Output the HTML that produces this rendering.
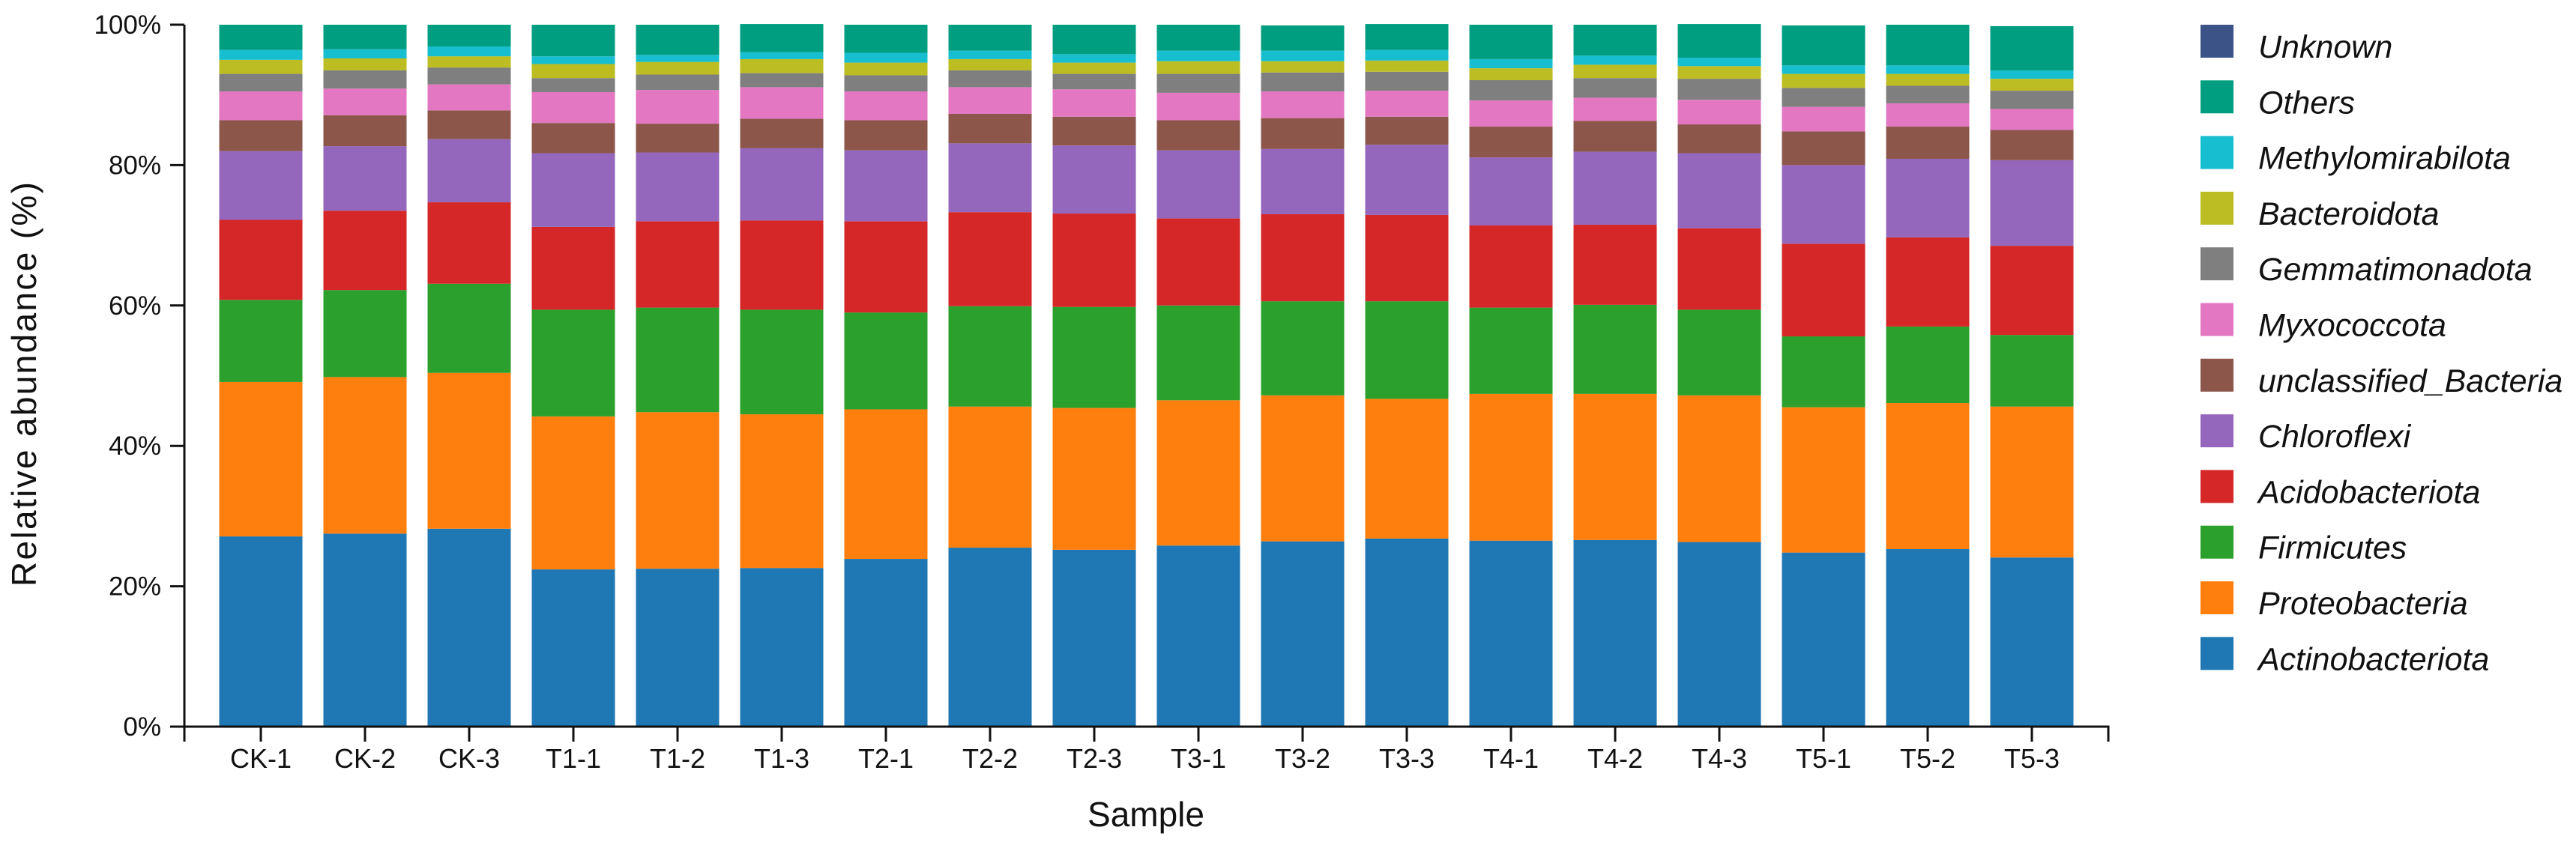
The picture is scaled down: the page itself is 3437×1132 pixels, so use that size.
<!DOCTYPE html>
<html><head><meta charset="utf-8"><style>
html,body{margin:0;padding:0;background:#fff;}
svg{display:block;font-family:"Liberation Sans",Arial,sans-serif;}
</style></head><body>
<svg id="chart" width="3437" height="1132" viewBox="0 0 3437 1132" xmlns="http://www.w3.org/2000/svg">
<g id="bars"></g>
<g id="axes"></g>
<g id="legend"></g>
<text transform="translate(48,513) rotate(-90)" text-anchor="middle" font-size="46" textLength="540" fill="#111">Relative abundance (%)</text>
<text x="1529" y="1103" text-anchor="middle" font-size="46" fill="#111">Sample</text>
</svg>
<script>
const categories = ["CK-1","CK-2","CK-3","T1-1","T1-2","T1-3","T2-1","T2-2","T2-3","T3-1","T3-2","T3-3","T4-1","T4-2","T4-3","T5-1","T5-2","T5-3"];
const seriesNames = ["Actinobacteriota","Proteobacteria","Firmicutes","Acidobacteriota","Chloroflexi","unclassified_Bacteria","Myxococcota","Gemmatimonadota","Bacteroidota","Methylomirabilota","Others","Unknown"];
const seriesColors = ["#1f77b4","#ff7f0e","#2ca02c","#d62728","#9467bd","#8c564b","#e377c2","#7f7f7f","#bcbd22","#17becf","#009e80","#3b5387"];
const actinobacteriota = [27.1,27.5,28.2,22.4,22.5,22.6,23.9,25.5,25.2,25.8,26.4,26.8,26.5,26.6,26.3,24.8,25.3,24.1];
const proteobacteria = [22.0,22.3,22.2,21.8,22.3,21.9,21.3,20.1,20.2,20.7,20.8,19.9,20.9,20.8,20.9,20.7,20.8,21.5];
const firmicutes = [11.7,12.4,12.7,15.2,14.9,14.9,13.8,14.3,14.4,13.5,13.4,13.9,12.3,12.7,12.2,10.1,10.9,10.2];
const acidobacteriota = [11.4,11.3,11.6,11.8,12.3,12.7,13.0,13.4,13.3,12.4,12.4,12.3,11.7,11.4,11.6,13.2,12.7,12.7];
const chloroflexi = [9.8,9.2,9.0,10.5,9.8,10.3,10.1,9.8,9.7,9.7,9.3,10.0,9.7,10.4,10.7,11.2,11.2,12.2];
const unclassifiedBacteria = [4.4,4.4,4.1,4.3,4.1,4.2,4.3,4.2,4.1,4.3,4.4,4.0,4.4,4.4,4.1,4.8,4.6,4.3];
const myxococcota = [4.1,3.8,3.7,4.4,4.8,4.5,4.1,3.8,3.9,3.9,3.8,3.7,3.7,3.3,3.5,3.5,3.3,3.0];
const gemmatimonadota = [2.5,2.6,2.4,2.0,2.2,2.0,2.3,2.4,2.2,2.7,2.7,2.7,2.9,2.8,3.0,2.7,2.5,2.6];
const bacteroidota = [2.0,1.7,1.6,2.0,1.8,2.0,1.8,1.6,1.6,1.8,1.6,1.6,1.7,1.9,1.8,2.0,1.7,1.7];
const methylomirabilota = [1.4,1.3,1.4,1.1,1.0,1.0,1.4,1.2,1.2,1.5,1.5,1.5,1.3,1.3,1.2,1.2,1.2,1.2];
const others = [3.6,3.5,3.1,4.5,4.3,4.0,4.0,3.7,4.2,3.7,3.6,3.7,4.9,4.4,4.8,5.7,5.8,6.3];
const unknown = [0,0,0,0,0,0,0,0,0,0,0,0,0,0,0,0,0,0];
const yTicks = [0,20,40,60,80,100];
const yTickLabels = ["0%","20%","40%","60%","80%","100%"];

const series = [actinobacteriota,proteobacteria,firmicutes,acidobacteriota,chloroflexi,unclassifiedBacteria,myxococcota,gemmatimonadota,bacteroidota,methylomirabilota,others,unknown];
const NS="http://www.w3.org/2000/svg";
const X0=246, X1=2813, Y0=970, Y1=33, PAD=102, BW=111;
const step=(X1-X0-2*PAD)/(categories.length-1);
function xScale(i){return X0+PAD+i*step;}
function yScale(v){return Y0-(v/100)*(Y0-Y1);}
function mk(tag,attrs,parent){const e=document.createElementNS(NS,tag);for(const k in attrs)e.setAttribute(k,attrs[k]);parent.appendChild(e);return e;}
const gb=document.getElementById('bars'), ga=document.getElementById('axes'), gl=document.getElementById('legend');
categories.forEach((c,i)=>{
  let cum=0;
  series.forEach((s,k)=>{
    const v=s[i]; if(!v) return;
    const r=mk('rect',{x:xScale(i)-BW/2,y:yScale(cum+v),width:BW,height:yScale(cum)-yScale(cum+v),fill:seriesColors[k]},gb);
    
    
    cum+=v;
  });
  const t=mk('line',{x1:xScale(i),x2:xScale(i),y1:Y0,y2:Y0+20,stroke:'#111','stroke-width':3},ga);
  
  
  const l=mk('text',{x:xScale(i),y:1025,'text-anchor':'middle','font-size':36,fill:'#111'},ga);
  l.textContent=c;
  
  
});
const ax=mk('path',{d:`M${X0} ${Y1}V${Y0+20}M${X0-1.5} ${Y0}H${X1}V${Y0+20}`,stroke:'#111','stroke-width':3,fill:'none'},ga);


yTicks.forEach((v,j)=>{
  const t=mk('line',{x1:X0-19,x2:X0,y1:yScale(v),y2:yScale(v),stroke:'#111','stroke-width':3},ga);
  
  
  const l=mk('text',{x:215,y:yScale(v)+12,'text-anchor':'end','font-size':35,fill:'#111'},ga);
  l.textContent=yTickLabels[j];
  
  
});
const legendOrder=[11,10,9,8,7,6,5,4,3,2,1,0];
legendOrder.forEach((k,r)=>{
  const y=33+r*74.3;
  const g=mk('g',{},gl);
  
  
  const s=mk('rect',{x:2936,y:y,width:44,height:44,fill:seriesColors[k]},g);
  
  
  const t=mk('text',{x:3013,y:y+44,'font-size':43,'font-style':'italic',fill:'#111'},g);
  t.textContent=seriesNames[k];
  
  
});
</script>
</body></html>
